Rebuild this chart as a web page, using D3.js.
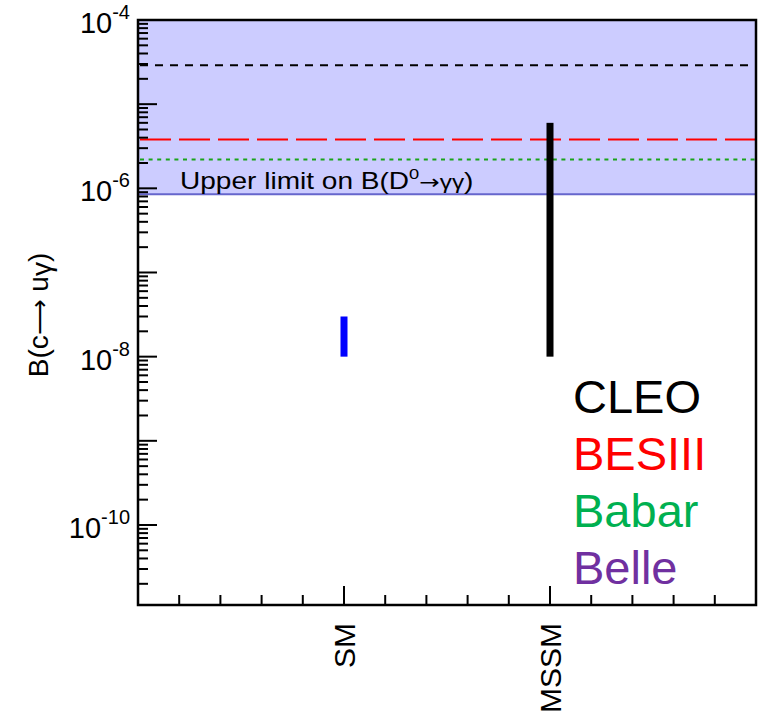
<!DOCTYPE html>
<html>
<head>
<meta charset="utf-8">
<script src="https://cdn.jsdelivr.net/npm/d3@7"></script>
<style>
  html, body { margin: 0; padding: 0; background: #fff; }
  svg { display: block; font-family: "Liberation Sans", Arial, Helvetica, sans-serif; }
</style>
</head>
<body>
<svg id="chart" width="761" height="713"></svg>
<script>
// ---- data ----
const categories = ["SM", "MSSM"];
const categoryPos = [1, 2];
const rangeLow = [1.0e-8, 1.0e-8];
const rangeHigh = [3.0e-8, 6.0e-6];
const barColors = ["#0000ff", "#000000"];

const experiments = ["CLEO", "BESIII", "Babar", "Belle"];
const upperLimits = [2.9e-5, 3.8e-6, 2.2e-6, 8.5e-7];
const expColors = ["#000000", "#ff0000", "#00b050", "#7030a0"];
const lineColors = ["#000000", "#ff0000", "#1aa31a", "#6666cc"];

const yTickExponents = [-4, -6, -8, -10];

// ---- layout ----
const svg = d3.select("#chart");
const pLeft = 138, pRight = 756, pTop = 20, pBottom = 605;

const x = d3.scaleLinear().domain([0, 3]).range([pLeft, pRight]);
const y = d3.scaleLog().domain([1e-4, 1.12e-11]).range([pTop, pBottom]);

// Belle band (upper limit on D0 -> gamma gamma)
const bandIdx = 3;
svg.append("rect")
  .attr("x", pLeft).attr("y", y(1e-4))
  .attr("width", pRight - pLeft)
  .attr("height", y(upperLimits[bandIdx]) - y(1e-4))
  .attr("fill", "#ccccff");

svg.append("line")
  .attr("x1", pLeft).attr("x2", pRight)
  .attr("y1", y(upperLimits[bandIdx])).attr("y2", y(upperLimits[bandIdx]))
  .attr("stroke", lineColors[bandIdx]).attr("stroke-width", 2);

// other experiment limits
const dashes = ["8,7", "31,8", "4,4.6", null];
experiments.forEach((e, i) => {
  if (i === bandIdx) return;
  svg.append("line")
    .attr("x1", pLeft + 2).attr("x2", pRight)
    .attr("y1", y(upperLimits[i])).attr("y2", y(upperLimits[i]))
    .attr("stroke", lineColors[i]).attr("stroke-width", 2)
    .attr("stroke-dasharray", dashes[i]);
});

// upper limit text (slightly wide lettering as in the reference)
const ul = svg.append("text")
  .attr("transform", "translate(180,189) scale(1.22,1)")
  .attr("font-size", 23).attr("fill", "#000");
ul.append("tspan").text("Upper limit on B(D");
ul.append("tspan").attr("font-size", 15).attr("dy", -10).text("0");
ul.append("tspan").attr("dy", 10).attr("font-family", "DejaVu Sans").attr("font-size", 20).text("\u2192");
ul.append("tspan").attr("font-size", 20).text("\u03b3\u03b3");
ul.append("tspan").text(")");

// prediction bars
categories.forEach((c, i) => {
  svg.append("rect")
    .attr("x", x(categoryPos[i]) - 3.5)
    .attr("y", y(rangeHigh[i]))
    .attr("width", 7)
    .attr("height", y(rangeLow[i]) - y(rangeHigh[i]))
    .attr("fill", barColors[i]);
});

// axes ticks - y
const yTicks = [];
for (let e = -11; e <= -4; e++) {
  for (let k = 1; k <= 9; k++) {
    const v = k * Math.pow(10, e);
    if (v <= 1e-4 * 1.0001 && v >= 1.12e-11) yTicks.push({v, major: k === 1});
  }
}
svg.append("g").selectAll("line").data(yTicks).join("line")
  .attr("x1", pLeft).attr("x2", d => pLeft + (d.major ? 19 : 10))
  .attr("y1", d => y(d.v)).attr("y2", d => y(d.v))
  .attr("stroke", "#000").attr("stroke-width", 2);

// x ticks
const xTicks = d3.range(1, 15).map(i => ({v: i * 0.2, major: i % 5 === 0}));
svg.append("g").selectAll("line").data(xTicks).join("line")
  .attr("x1", d => x(d.v)).attr("x2", d => x(d.v))
  .attr("y1", pBottom).attr("y2", d => pBottom - (d.major ? 19 : 10))
  .attr("stroke", "#000").attr("stroke-width", 2);

// frame
svg.append("rect")
  .attr("x", pLeft).attr("y", pTop)
  .attr("width", pRight - pLeft).attr("height", pBottom - pTop)
  .attr("fill", "none").attr("stroke", "#000").attr("stroke-width", 2.5);

// y tick labels
yTickExponents.forEach(ex => {
  const t = svg.append("text")
    .attr("x", 130).attr("y", y(Math.pow(10, ex)) + 13)
    .attr("text-anchor", "end").attr("font-size", 29).attr("fill", "#000");
  t.append("tspan").text("10");
  t.append("tspan").attr("font-size", 20).attr("dy", -14).text("-" + Math.abs(ex));
});

// x tick labels (rotated)
categories.forEach((c, i) => {
  svg.append("text")
    .attr("transform", `translate(${x(categoryPos[i]) + 11},${623}) rotate(-90)`)
    .attr("text-anchor", "end")
    .attr("font-size", 30).attr("fill", "#000")
    .text(c);
});

// y axis title
const yl = svg.append("text")
  .attr("transform", "translate(48,315) rotate(-90)")
  .attr("text-anchor", "middle").attr("font-size", 28).attr("fill", "#000");
yl.append("tspan").text("B(c");
yl.append("tspan").attr("font-family", "DejaVu Sans").attr("font-size", 25).text("\u27f6");
yl.append("tspan").text(" u");
yl.append("tspan").attr("dy", 3).text("\u03b3");
yl.append("tspan").attr("dy", -3).text(")");

// legend
experiments.forEach((e, i) => {
  svg.append("text")
    .attr("x", 573).attr("y", 413 + i * 57)
    .attr("font-size", 47).attr("fill", expColors[i])
    .text(e);
});
</script>
</body>
</html>
